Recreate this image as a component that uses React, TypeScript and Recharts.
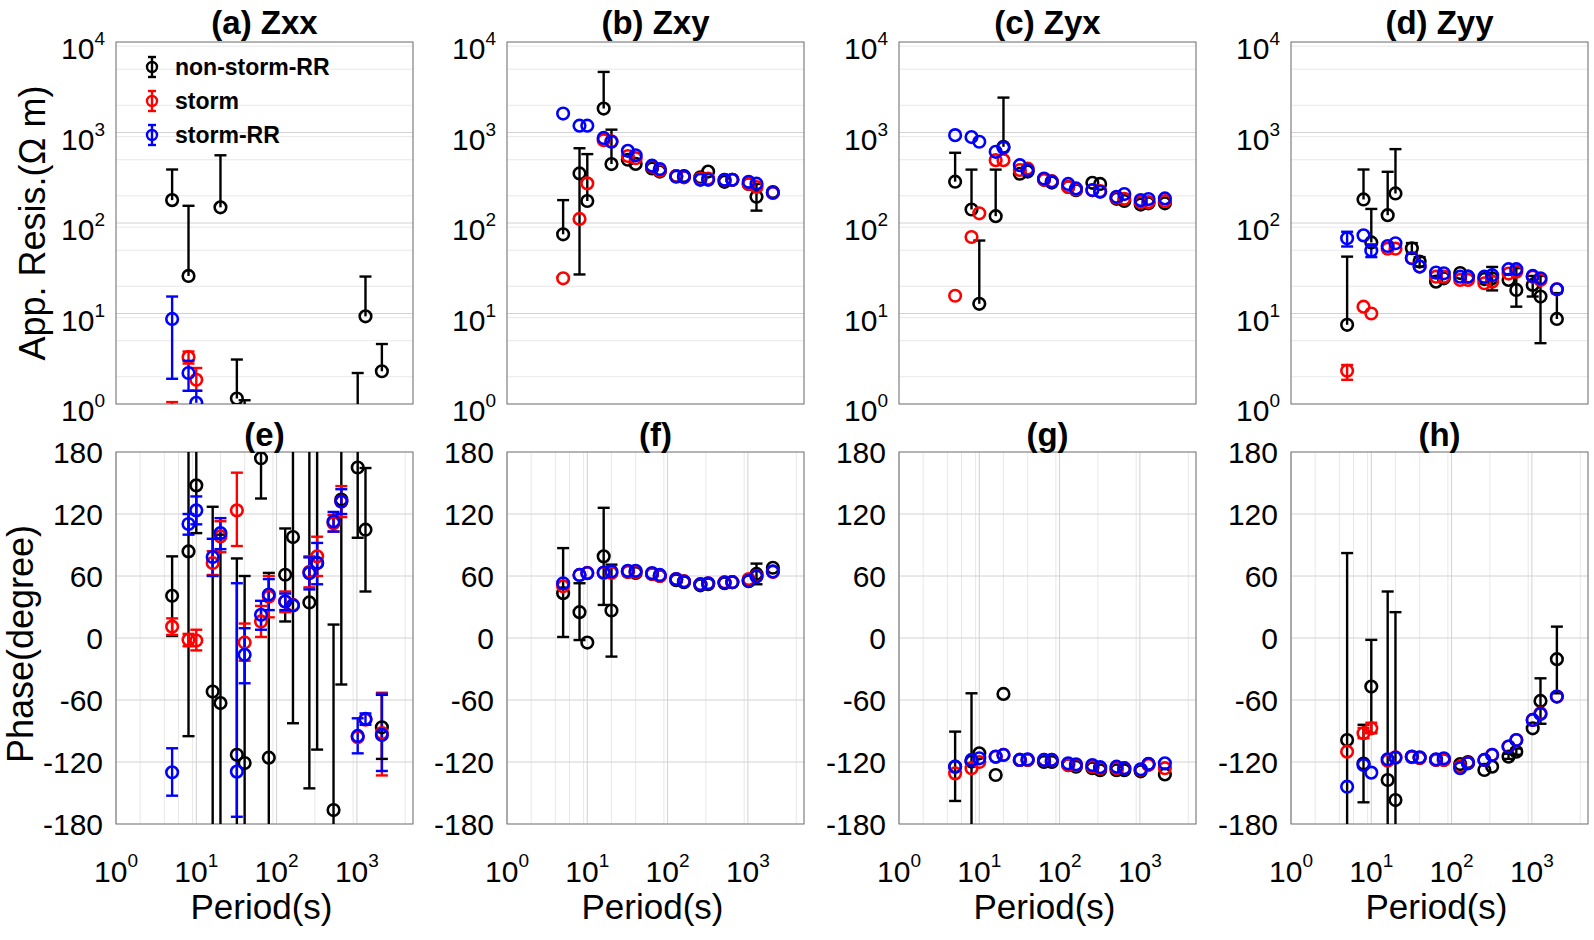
import React from "react";
import {
  ComposedChart,
  Scatter,
  Line,
  XAxis,
  YAxis,
  CartesianGrid,
  ReferenceArea,
} from "recharts";

const FONT = "'Liberation Sans', Arial, Helvetica, sans-serif";
const BLACK = "#000000";
const RED = "#ff0000";
const BLUE = "#0000ff";

// periods (s) shared by every panel
const PERIODS = [5, 8, 10, 16, 20, 32, 40, 64, 80, 128, 160, 256, 320, 512, 640, 1024, 1280, 2048];

const X_TICKS = [1, 10, 100, 1000];
const Y_LOG_TICKS = [1, 10, 100, 1000, 10000];
const Y_PHASE_TICKS = [-180, -120, -60, 0, 60, 120, 180];

const TOP_TITLES = ["(a) Zxx", "(b) Zxy", "(c) Zyx", "(d) Zyy"];
const BOTTOM_TITLES = ["(e)", "(f)", "(g)", "(h)"];
const LEGEND_LABELS = ["non-storm-RR", "storm", "storm-RR"];

// error bars: [period, lower, upper]; null = that side not drawn
type Err = [number, number | null, number | null];

// ---- (a) Zxx apparent resistivity
const zxxRhoNon = [179, 26, null, null, 149, 1.15, 0.5, null, null, null, null, null, null, null, null, 0.6, 9.3, 2.3];
const zxxRhoNonErr: Err[] = [[5, null, 390], [8, null, 155], [20, null, 560], [32, null, 3.1], [40, null, 1.1], [1024, null, 2.2], [1280, null, 25.6], [2048, null, 4.6]];
const zxxRhoStorm = [0.5, 3.3, 1.85, null, null, null, null, null, null, null, null, null, null, null, null, null, null, null];
const zxxRhoStormErr: Err[] = [[5, null, 1.05], [8, 2.8, 3.8], [10, 1.4, 2.5]];
const zxxRhoRR = [8.7, 2.2, 1.03, null, null, null, null, null, null, null, null, null, null, null, null, null, null, null];
const zxxRhoRRErr: Err[] = [[5, 1.9, 15.4], [8, 1.4, 3.0], [10, null, 1.4]];

// ---- (b) Zxy
const zxyRhoNon = [75, 353, 175, 1840, 448, 500, 450, 400, 370, 330, 330, 320, 370, 285, 300, 270, 195, 220];
const zxyRhoNonErr: Err[] = [[5, null, 179], [8, 27, 670], [10, null, 577], [16, null, 4670], [20, null, 1075], [1280, 137, 270]];
const zxyRhoStorm = [24.5, 111, 274, 823, 800, 550, 520, 420, 380, 330, 320, 310, 310, 300, 300, 270, 250, 215];
const zxyRhoRR = [1620, 1190, 1190, 870, 790, 627, 560, 430, 395, 325, 325, 300, 300, 300, 300, 285, 272, 216];

// ---- (c) Zyx
const zyxRhoNon = [286, 141, 12.8, 119, 695, 350, 370, 300, 280, 250, 230, 278, 270, 185, 175, 160, 165, 165];
const zyxRhoNonErr: Err[] = [[5, null, 597], [8, null, 389], [10, null, 64], [16, null, 389], [20, null, 2430]];
const zyxRhoStorm = [15.7, 70, 128, 495, 495, 385, 400, 300, 290, 250, 235, 230, 225, 190, 185, 170, 170, 175];
const zyxRhoRR = [935, 890, 790, 612, 680, 435, 385, 310, 286, 270, 241, 231, 221, 195, 209, 179, 184, 187];

// ---- (d) Zyy
const zyyRhoNon = [7.5, 182, 61, 122, 212, 52.6, 37.5, 22.5, 24.5, 28, 25.5, 24, 24.5, 23.5, 18.2, 20.7, 15.4, 8.7];
const zyyRhoNonErr: Err[] = [[5, null, 42.5], [8, null, 390], [10, null, 143], [16, null, 368], [20, null, 655], [32, 46, 60], [40, 33, 42], [320, 18, 32.7], [640, 11.9, 31.7], [1024, 15.4, 26], [1280, 4.7, 26], [2048, null, 16.8]];
const zyyRhoStorm = [2.33, 11.9, 10, 52, 52, 41, 33, 25.5, 25.5, 23.5, 23.5, 21.6, 22.5, 27.6, 29, 25.5, 23.5, 18.5];
const zyyRhoStormErr: Err[] = [[5, 1.85, 2.7]];
const zyyRhoRR = [67.8, 73, 49.5, 55.7, 59.7, 40.8, 33, 28.3, 27.8, 25.5, 25.5, 25.5, 26.5, 30.9, 30.9, 26, 24.5, 18.5];
const zyyRhoRRErr: Err[] = [[5, 55, 80], [10, 42, 58]];

// ---- (e) Zxx phase
const zxxPhiNon = [40.8, 83.8, 147.7, -51.8, -63, -113, -121, 174, -115.8, 61.2, 97.7, 34.4, 72.5, -166.5, 134, 165, 104.8, -86.4];
const zxxPhiNonErr: Err[] = [[5, 2, 79], [8, -95, 262], [10, 101.5, 194], [16, -230, 127], [20, -250, 100], [32, -303, 77], [40, -302, 60], [64, 135, 213], [80, -295, 63], [128, 16, 106], [160, -82.5, 278], [256, -145.5, 214], [320, -108, 253], [512, -346, 13], [640, -45, 313], [1024, 97, 233], [1280, 45, 164.5], [2048, -117, -55]];
const zxxPhiStorm = [11, -1.8, -2.4, 72.5, 98.3, 123.5, -4.4, 16, 40, 35.3, 32, 64, 79, 111, 132, -96, -79, -92];
const zxxPhiStormErr: Err[] = [[5, 3, 19], [8, -8, 4], [10, -12, 8], [16, 61, 84], [20, 83, 113], [32, 89, 160], [40, -22, 14], [64, 1, 31], [80, 20, 60], [128, 25, 45], [256, 49, 79], [320, 60, 98], [512, 103, 119], [640, 117, 147], [2048, -133, -53]];
const zxxPhiRR = [-130, 110.3, 123.5, 78.3, 101.5, -129.3, -16.3, 22.4, 42, 35.3, 31.5, 62.8, 72.5, 112.8, 132, -94.8, -78.3, -93.8];
const zxxPhiRRErr: Err[] = [[5, -152.6, -106.7], [8, 100, 120], [10, 110, 137], [16, 60, 96], [20, 86, 116], [32, -173, 53], [40, -43.8, 9.5], [64, 8, 36], [80, 27, 57], [128, 27, 43], [256, 47, 78], [320, 52, 92], [512, 103, 122], [640, 120, 144], [1024, -111.6, -77.7], [1280, -84, -73], [2048, -128.7, -54]];

// ---- (f) Zxy phase
const zxyPhiNon = [43.4, 25, -4.4, 79, 26.6, 64, 63, 62, 60, 56, 54, 51, 52, 53, 54, 55, 62, 68];
const zxyPhiNonErr: Err[] = [[5, 1, 87], [8, -2, 53], [16, 32, 126], [20, -18, 71], [1280, 52, 72]];
const zxyPhiStorm = [50, 61, 63, 63, 63, 64, 64, 62, 60, 57, 55, 52, 53, 54, 54, 57, 60, 64];
const zxyPhiRR = [53, 61, 62.8, 63.4, 64.4, 65, 65, 62.8, 61, 57, 54.7, 52.1, 53, 53.7, 54, 55.4, 59.6, 64.4];

// ---- (g) Zyx phase
const zyxPhiNon = [-124.5, -119.6, -111.6, -132.6, -54.1, -118, -118, -120, -120, -123, -124.5, -126, -128, -128, -128, -129, -122, -132];
const zyxPhiNonErr: Err[] = [[5, -157.7, -90.6], [8, -186, -53.5]];
const zyxPhiStorm = [-131, -126, -120, -115, -113, -118, -118, -118, -118, -123, -123, -124.5, -126, -126, -126, -127.5, -123, -126];
const zyxPhiRR = [-124.5, -118, -116.4, -114.8, -113.2, -118, -117.4, -118, -118, -121.3, -122.2, -123, -125, -124.5, -126, -127, -121.9, -121.3];

// ---- (h) Zyy phase
const zyyPhiNon = [-98.7, -121.5, -47, -137.4, -156.8, -115, -116, -118, -118, -122, -120, -127.7, -124.5, -114.8, -110, -87.4, -60.9, -20.5];
const zyyPhiNonErr: Err[] = [[5, -280, 82.2], [8, -159, -84], [10, -92, -1.8], [16, -320, 45], [20, -339, 25], [512, -117, -112], [640, -113, -107], [1280, -83, -39], [2048, -53.5, 11]];
const zyyPhiStorm = [-110, -92.2, -87.4, -118.7, -115.4, -115.4, -116, -118, -118, -124.5, -121, -118, -113, -105, -98.7, -79.3, -72.8, -56.7];
const zyyPhiStormErr: Err[] = [[8, -97, -87], [10, -92, -82]];
const zyyPhiRR = [-143.9, -122.9, -130.3, -117.4, -115.8, -114.8, -115.4, -117.4, -116.4, -126, -121.3, -118, -113.2, -105, -98.7, -79.3, -73.5, -56.7];

type SeriesDef = { color: string; values: (number | null)[]; errors: Err[] };

const mk = (color: string, values: (number | null)[], errors: Err[] = []): SeriesDef => ({ color, values, errors });

const TOP_PANELS: SeriesDef[][] = [
  [mk(BLACK, zxxRhoNon, zxxRhoNonErr), mk(RED, zxxRhoStorm, zxxRhoStormErr), mk(BLUE, zxxRhoRR, zxxRhoRRErr)],
  [mk(BLACK, zxyRhoNon, zxyRhoNonErr), mk(RED, zxyRhoStorm), mk(BLUE, zxyRhoRR)],
  [mk(BLACK, zyxRhoNon, zyxRhoNonErr), mk(RED, zyxRhoStorm), mk(BLUE, zyxRhoRR)],
  [mk(BLACK, zyyRhoNon, zyyRhoNonErr), mk(RED, zyyRhoStorm, zyyRhoStormErr), mk(BLUE, zyyRhoRR, zyyRhoRRErr)],
];

const BOTTOM_PANELS: SeriesDef[][] = [
  [mk(BLACK, zxxPhiNon, zxxPhiNonErr), mk(RED, zxxPhiStorm, zxxPhiStormErr), mk(BLUE, zxxPhiRR, zxxPhiRRErr)],
  [mk(BLACK, zxyPhiNon, zxyPhiNonErr), mk(RED, zxyPhiStorm), mk(BLUE, zxyPhiRR)],
  [mk(BLACK, zyxPhiNon, zyxPhiNonErr), mk(RED, zyxPhiStorm), mk(BLUE, zyxPhiRR)],
  [mk(BLACK, zyyPhiNon, zyyPhiNonErr), mk(RED, zyyPhiStorm, zyyPhiStormErr), mk(BLUE, zyyPhiRR)],
];

// minor grid positions of the log axes
const minorOf = (decades: number[], max: number) =>
  decades.flatMap((d) => [2, 3, 4, 5, 6, 7, 8, 9].map((m) => m * d)).filter((v) => v < max);
const X_MINOR = minorOf(X_TICKS, 5000);
const Y_LOG_MINOR = minorOf([1, 10, 100, 1000], 10000);

// layout
const BOX_LEFTS = [116, 507, 899, 1291];
const BOX_W = 297;
const TOP_BOX = { top: 42, height: 362 };
const BOTTOM_BOX = { top: 452, height: 372 };
const PAD_L = 110;
const PAD_T = 30;
const PAD_R = 12;

function LogYTick({ x, y, payload }: any) {
  const exp = Math.round(Math.log10(payload.value));
  return (
    <text x={x - 11} y={y + 17} textAnchor="end" fontSize={30} fontFamily={FONT} fill="#000">
      <tspan>10</tspan>
      <tspan dy={-14} fontSize={19}>{exp}</tspan>
    </text>
  );
}

function PhaseYTick({ x, y, payload }: any) {
  return (
    <text x={x - 13} y={y + 11} textAnchor="end" fontSize={30} fontFamily={FONT} fill="#000">
      {payload.value}
    </text>
  );
}

function LogXTick({ x, y, payload }: any) {
  const exp = Math.round(Math.log10(payload.value));
  return (
    <text x={x} y={y + 58} textAnchor="middle" fontSize={30} fontFamily={FONT} fill="#000">
      <tspan>10</tspan>
      <tspan dy={-15} fontSize={19}>{exp}</tspan>
    </text>
  );
}

const capDot = (color: string) => (p: any) => {
  const { cx, cy, payload, index } = p;
  if (!payload.cap || cx == null || cy == null) return <g key={`c${index}`} />;
  return <line key={`c${index}`} x1={cx - 6} x2={cx + 6} y1={cy} y2={cy} stroke={color} strokeWidth={2.4} />;
};

const circleShape = (color: string) => (p: any) => (
  <circle cx={p.cx} cy={p.cy} r={5.8} fill="none" stroke={color} strokeWidth={2.6} />
);

function Panel({ boxLeft, box, log, series, showX, id }: {
  boxLeft: number;
  box: { top: number; height: number };
  log: boolean;
  series: SeriesDef[];
  showX: boolean;
  id: string;
}) {
  const padB = showX ? 80 : 30;
  const yDomain = log ? [1, 10000] : [-180, 180];
  return (
    <div style={{ position: "absolute", left: boxLeft - PAD_L, top: box.top - PAD_T }}>
      <ComposedChart
        width={PAD_L + BOX_W + PAD_R}
        height={PAD_T + box.height + padB}
        margin={{ top: PAD_T, right: PAD_R, bottom: 0, left: 0 }}
      >
        <CartesianGrid
          verticalValues={X_MINOR}
          horizontal={log}
          horizontalValues={log ? Y_LOG_MINOR : undefined}
          stroke="#e8e8e8"
          strokeWidth={1}
        />
        <CartesianGrid
          verticalValues={X_TICKS}
          horizontalValues={log ? Y_LOG_TICKS : Y_PHASE_TICKS}
          stroke="#d2d2d2"
          strokeWidth={1}
        />
        <XAxis
          type="number"
          dataKey="x"
          scale="log"
          domain={[1, 5000]}
          allowDataOverflow
          ticks={X_TICKS}
          tick={showX ? (p: any) => <LogXTick {...p} /> : false}
          tickSize={0}
          tickMargin={0}
          axisLine={false}
          tickLine={false}
          height={padB}
        />
        <YAxis
          type="number"
          dataKey="y"
          scale={log ? "log" : "linear"}
          domain={yDomain}
          allowDataOverflow
          ticks={log ? Y_LOG_TICKS : Y_PHASE_TICKS}
          tick={(p: any) => (log ? <LogYTick {...p} /> : <PhaseYTick {...p} />)}
          tickSize={0}
          tickMargin={0}
          axisLine={false}
          tickLine={false}
          width={PAD_L}
        />
        <ReferenceArea
          x1={1}
          x2={5000}
          y1={yDomain[0]}
          y2={yDomain[1]}
          fill="none"
          fillOpacity={0}
          stroke="#808080"
          strokeWidth={1.2}
        />
        {series.flatMap((s, si) => {
          const pts = PERIODS.map((p, i) => ({ x: p, y: s.values[i] })).filter((d) => d.y != null);
          const bars = s.errors.map(([p, lo, hi], ei) => {
            const v = s.values[PERIODS.indexOf(p)] as number;
            const seg = [
              { x: p, y: lo ?? v, cap: lo != null },
              { x: p, y: hi ?? v, cap: hi != null },
            ];
            return (
              <Line
                key={`${id}-e${si}-${ei}`}
                data={seg}
                dataKey="y"
                type="linear"
                stroke={s.color}
                strokeWidth={2.4}
                dot={capDot(s.color)}
                activeDot={false}
                isAnimationActive={false}
                legendType="none"
              />
            );
          });
          return [
            ...bars,
            <Scatter
              key={`${id}-s${si}`}
              data={pts}
              dataKey="y"
              shape={circleShape(s.color)}
              isAnimationActive={false}
            />,
          ];
        })}
      </ComposedChart>
    </div>
  );
}

function LegendBox() {
  const colors = [BLACK, RED, BLUE];
  return (
    <div style={{ position: "absolute", left: 140, top: 50 }}>
      {LEGEND_LABELS.map((label, i) => (
        <div key={label} style={{ display: "flex", alignItems: "center", height: 34 }}>
          <svg width={24} height={30} style={{ display: "block" }}>
            <line x1={12} x2={12} y1={5} y2={25} stroke={colors[i]} strokeWidth={2.4} />
            <line x1={8} x2={16} y1={5} y2={5} stroke={colors[i]} strokeWidth={2.4} />
            <line x1={8} x2={16} y1={25} y2={25} stroke={colors[i]} strokeWidth={2.4} />
            <circle cx={12} cy={15} r={5} fill="none" stroke={colors[i]} strokeWidth={2.4} />
          </svg>
          <span style={{ marginLeft: 11, fontSize: 23, fontWeight: "bold", fontFamily: FONT, lineHeight: "23px" }}>
            {label}
          </span>
        </div>
      ))}
    </div>
  );
}

export default function App() {
  const centers = BOX_LEFTS.map((l) => l + BOX_W / 2);
  return (
    <div
      style={{
        position: "absolute",
        left: 0,
        top: 0,
        width: 1594,
        height: 940,
        background: "#fff",
        overflow: "hidden",
        fontFamily: FONT,
        color: "#000",
      }}
    >
      {TOP_PANELS.map((s, i) => (
        <Panel key={`t${i}`} id={`t${i}`} boxLeft={BOX_LEFTS[i]} box={TOP_BOX} log series={s} showX={false} />
      ))}
      {BOTTOM_PANELS.map((s, i) => (
        <Panel key={`b${i}`} id={`b${i}`} boxLeft={BOX_LEFTS[i]} box={BOTTOM_BOX} log={false} series={s} showX />
      ))}

      {TOP_TITLES.map((t, i) => (
        <div
          key={t}
          style={{ position: "absolute", left: centers[i] - 150, width: 300, top: 6, textAlign: "center", fontSize: 33, fontWeight: "bold", lineHeight: "33px" }}
        >
          {t}
        </div>
      ))}
      {BOTTOM_TITLES.map((t, i) => (
        <div
          key={t}
          style={{ position: "absolute", left: centers[i] - 150, width: 300, top: 418, textAlign: "center", fontSize: 33, fontWeight: "bold", lineHeight: "33px" }}
        >
          {t}
        </div>
      ))}
      {centers.map((c, i) => (
        <div
          key={`xl${i}`}
          style={{ position: "absolute", left: c - 150 - 3, width: 300, top: 889, textAlign: "center", fontSize: 35, lineHeight: "35px" }}
        >
          Period(s)
        </div>
      ))}

      <div style={{ position: "absolute", left: 33, top: 223, width: 0, height: 0 }}>
        <div style={{ position: "absolute", transform: "translate(-50%, -50%) rotate(-90deg)", whiteSpace: "nowrap", fontSize: 36, lineHeight: "36px" }}>
          App. Resis.(Ω m)
        </div>
      </div>
      <div style={{ position: "absolute", left: 21, top: 644, width: 0, height: 0 }}>
        <div style={{ position: "absolute", transform: "translate(-50%, -50%) rotate(-90deg)", whiteSpace: "nowrap", fontSize: 36, lineHeight: "36px" }}>
          Phase(degree)
        </div>
      </div>

      <LegendBox />
    </div>
  );
}
